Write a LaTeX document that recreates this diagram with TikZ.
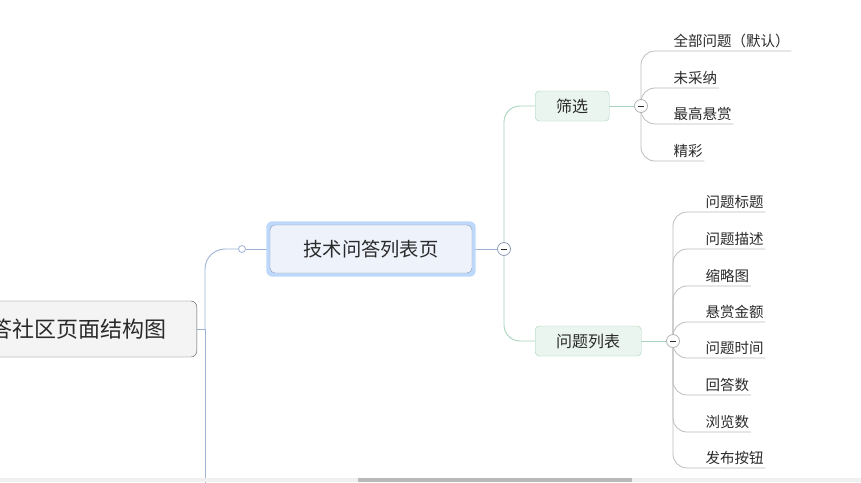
\documentclass[tikz,border=0pt]{standalone}
\usepackage{fontspec}
\newfontfamily\cjk{Noto Sans CJK SC}
\usetikzlibrary{positioning,fit,backgrounds}

\definecolor{inkgray}{HTML}{2A2A2A}
\definecolor{rootfill}{HTML}{F4F4F4}
\definecolor{rootdraw}{HTML}{5A5A5A}
\definecolor{topicfill}{HTML}{EEF2FB}
\definecolor{topicdraw}{HTML}{8E9CB8}
\definecolor{selblue}{HTML}{BDD8FA}
\definecolor{subfill}{HTML}{EAF5EF}
\definecolor{subdraw}{HTML}{A3D2B6}
\definecolor{blueline}{HTML}{9FB3D6}
\definecolor{greenline}{HTML}{A8D4BC}
\definecolor{grayline}{HTML}{BCBCBC}

\begin{document}
\begin{tikzpicture}[
    x=1pt, y=-1pt,
    font=\cjk, text=inkgray,
    root/.style={rectangle, draw=rootdraw, fill=rootfill, rounded corners=6pt,
                 minimum height=56pt, inner xsep=30pt,
                 font=\cjk\fontsize{22}{26}\selectfont},
    topic/.style={rectangle, draw=topicdraw, fill=topicfill, rounded corners=5pt,
                  minimum width=202pt, minimum height=48pt,
                  font=\cjk\fontsize{19.3}{23}\selectfont},
    sub/.style={rectangle, draw=subdraw, fill=subfill, rounded corners=4pt,
                minimum height=30pt, inner xsep=21pt, anchor=west,
                font=\cjk\fontsize{16}{19}\selectfont},
    leaf/.style={anchor=south west, inner xsep=1.5pt, inner ysep=0pt,
                 text depth=4pt, font=\cjk\fontsize{14.5}{17}\selectfont},
    fold/.style={circle, draw=#1, fill=white, thick, minimum size=13pt, inner sep=0pt},
    dot/.style={circle, draw=blueline, fill=white, thick, minimum size=7pt, inner sep=0pt},
    topline/.style={draw=blueline, line width=0.9pt},
    subline/.style={draw=greenline, line width=0.9pt},
    leafline/.style={draw=grayline, line width=0.8pt}
]
\useasboundingbox (0,0) rectangle (861,482);

% root (cut off at the left edge)
\node[root, anchor=east] (root) at (197,329) {答社区页面结构图};
\coordinate (trunk) at (205,329);
\coordinate (trunkend) at (205,490);

% first level
\node[dot] (dot) at (242,249) {};
\node[topic] (page) at (371,249) {技术问答列表页};
\node[fold=topicdraw] (fold0) at (504,249) {\rule{6.5pt}{0.8pt}};

% second level
\node[sub] (filter) at (535,106) {筛选};
\node[sub] (qlist) at (535,341) {问题列表};
\node[fold=gray!60] (fold1) at (641,106) {\rule{6.5pt}{0.8pt}};
\node[fold=gray!60] (fold2) at (673,341) {\rule{6.5pt}{0.8pt}};

% leaves of filter
\node[leaf] (f1) at (672,51)  {全部问题（默认）};
\node[leaf] (f2) at (672,88)  {未采纳};
\node[leaf] (f3) at (672,124) {最高悬赏};
\node[leaf] (f4) at (672,161) {精彩};

% leaves of question list
\node[leaf] (q1) at (704,212) {问题标题};
\node[leaf] (q2) at (704,249) {问题描述};
\node[leaf] (q3) at (704,286) {缩略图};
\node[leaf] (q4) at (704,322) {悬赏金额};
\node[leaf] (q5) at (704,358) {问题时间};
\node[leaf] (q6) at (704,395) {回答数};
\node[leaf] (q7) at (704,432) {浏览数};
\node[leaf] (q8) at (704,468) {发布按钮};

\begin{scope}[on background layer]
    % trunk
    \draw[topline] (root.east) -- (trunk);
    \draw[topline, rounded corners=20pt] (trunk) |- (dot.west);
    \draw[topline] (trunk) -- (trunkend);
    \draw[topline] (dot.east) -- (page.west);
    \draw[topline] (page.east) -- (fold0.center);

    % page -> sections
    \draw[subline, rounded corners=16pt] (fold0.center) |- (filter.west);
    \draw[subline, rounded corners=16pt] (fold0.center) |- (qlist.west);
    \draw[subline] (filter.east) -- (fold1.center);
    \draw[subline] (qlist.east) -- (fold2.center);

    % sections -> leaves
    \foreach \n in {f1,f2,f3,f4}
        \draw[leafline, rounded corners=14pt] (fold1.center) |- (\n.south west) -- (\n.south east);
    \foreach \n in {q1,q2,q3,q4,q5,q6,q7,q8}
        \draw[leafline, rounded corners=14pt] (fold2.center) |- (\n.south west) -- (\n.south east);

    % selection frame
    \node[fill=selblue, rounded corners=6pt, inner sep=3.5pt, fit=(page)] (sel) {};
\end{scope}

% scroll bar
\fill[gray!12] (0,478) rectangle (861,482);
\fill[gray!55] (358,478) rectangle (632,482);

\end{tikzpicture}
\end{document}
